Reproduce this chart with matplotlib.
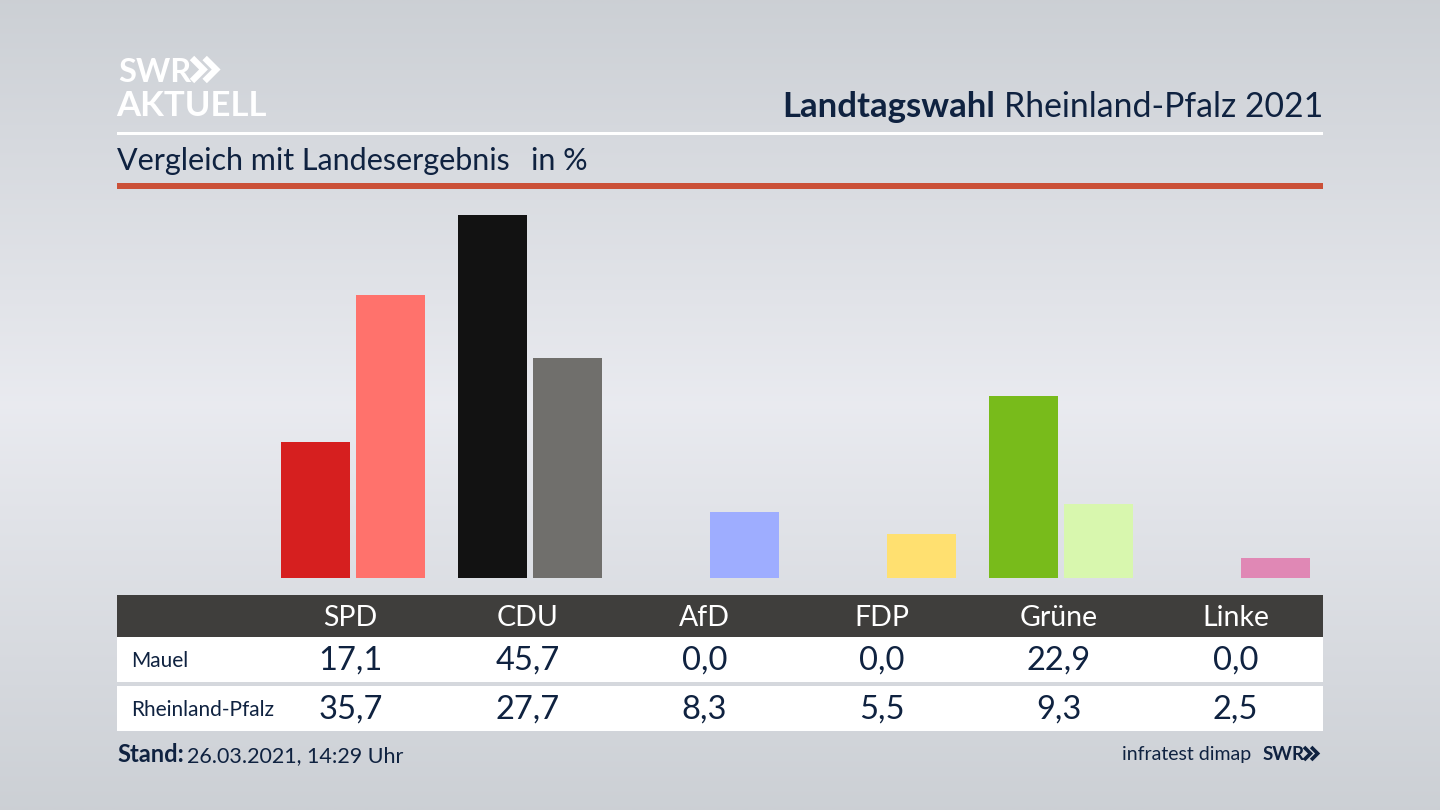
import matplotlib
matplotlib.use('Agg')
import matplotlib.pyplot as plt
import numpy as np
from matplotlib.patches import Rectangle

parteien = ['SPD', 'CDU', 'AfD', 'FDP', 'Grüne', 'Linke']
mauel = [17.1, 45.7, 0.0, 0.0, 22.9, 0.0]
land = [35.7, 27.7, 8.3, 5.5, 9.3, 2.5]
farben_mauel = ['#d61f1f', '#121212', '#6f7fe0', '#e0b800', '#78bb1b', '#b02a78']
farben_land = ['#ff726c', '#706f6c', '#9eadff', '#ffe070', '#d8f7ae', '#e088b5']

plt.rcParams['font.family'] = ['Lato', 'DejaVu Sans']
dunkel = '#0f2240'


def pfeile(x, y, h, farbe, lw):
    # die zwei Winkel vom SWR Logo
    for dx in (0, h * 0.55):
        bg.plot([x + dx, x + dx + h * 0.5, x + dx], [y - h, y - h / 2, y], color=farbe, lw=lw,
                solid_joinstyle='miter', solid_capstyle='butt')


fig = plt.figure(figsize=(14.4, 8.1), dpi=100)

# Hintergrund und alles in Pixelkoordinaten
bg = fig.add_axes([0, 0, 1, 1])
bg.set_xlim(0, 1440)
bg.set_ylim(810, 0)
bg.axis('off')
yy = np.linspace(0, 1, 256)
verlauf = 1 - np.abs(yy - 0.5) * 2
verlauf = np.tile(verlauf.reshape(-1, 1), (1, 2))
oben = np.array([0.80, 0.815, 0.835])
mitte = np.array([0.915, 0.92, 0.94])
bild = oben + (mitte - oben) * verlauf[:, :, None]
bg.imshow(bild, extent=[0, 1440, 810, 0], aspect='auto', interpolation='bilinear', zorder=0)

# Linien oben
bg.add_patch(Rectangle((117, 132), 1206, 3, color='white', lw=0, zorder=1))
bg.add_patch(Rectangle((117, 183), 1206, 6, color='#cb5038', lw=0, zorder=1))

# Logo
bg.text(118, 82, 'SWR', color='white', fontsize=23.5, fontweight='bold', va='baseline', ha='left')
pfeile(192, 81, 23, 'white', 4.5)
bg.text(116, 116, 'AKTUELL', color='white', fontsize=25, fontweight='bold', va='baseline', ha='left')

# Titel
t = bg.text(1323, 117, 'Rheinland-Pfalz 2021', color=dunkel, fontsize=24.3, va='baseline', ha='right')
fig.canvas.draw()
box = t.get_window_extent()
bg.text(box.x0 - 9, 117, 'Landtagswahl', color=dunkel, fontsize=25, fontweight='bold', va='baseline', ha='right')
bg.text(117, 170, 'Vergleich mit Landesergebnis', color=dunkel, fontsize=22, va='baseline', ha='left')
bg.text(531, 170, 'in %', color=dunkel, fontsize=22, va='baseline', ha='left')

# Balken
ax = fig.add_axes([117 / 1440, 1 - 577.5 / 810, 1206 / 1440, 362 / 810])
ax.patch.set_alpha(0)
x = np.arange(len(parteien))
ax.bar(x - 37.5 / 177, mauel, width=69 / 177, color=farben_mauel)
ax.bar(x + 37.5 / 177, land, width=69 / 177, color=farben_land)
ax.set_xlim((117 - 353) / 177, (1323 - 353) / 177)
ax.set_ylim(0, 45.7)
ax.axis('off')

# Tabelle
bg.add_patch(Rectangle((117, 595), 1206, 42, color='#3f3e3c', lw=0, zorder=1))
bg.add_patch(Rectangle((117, 637), 1206, 45, color='white', lw=0, zorder=1))
bg.add_patch(Rectangle((117, 686), 1206, 45, color='white', lw=0, zorder=1))
bg.text(131, 667, 'Mauel', color=dunkel, fontsize=15, va='baseline', ha='left')
bg.text(131, 716, 'Rheinland-Pfalz', color=dunkel, fontsize=15, va='baseline', ha='left')
for i, p in enumerate(parteien):
    px = 350.5 + 177 * i
    bg.text(px, 626, p, color='white', fontsize=20.5, va='baseline', ha='center')
    bg.text(px, 670, f'{mauel[i]:.1f}'.replace('.', ','), color=dunkel, fontsize=23.5, va='baseline', ha='center')
    bg.text(px, 719, f'{land[i]:.1f}'.replace('.', ','), color=dunkel, fontsize=23.5, va='baseline', ha='center')

# Fusszeile
bg.text(117, 762, 'Stand:', color=dunkel, fontsize=17, fontweight='bold', va='baseline', ha='left')
bg.text(187, 762, '26.03.2021, 14:29 Uhr', color=dunkel, fontsize=15.5, va='baseline', ha='left')
bg.text(1251, 760, 'infratest dimap', color=dunkel, fontsize=14, va='baseline', ha='right')
bg.text(1263, 760, 'SWR', color=dunkel, fontsize=13.5, fontweight='bold', va='baseline', ha='left')
pfeile(1304, 760, 13, dunkel, 2.6)

bg.set_xlim(0, 1440)
bg.set_ylim(810, 0)
fig.savefig('out.png', dpi=100)
